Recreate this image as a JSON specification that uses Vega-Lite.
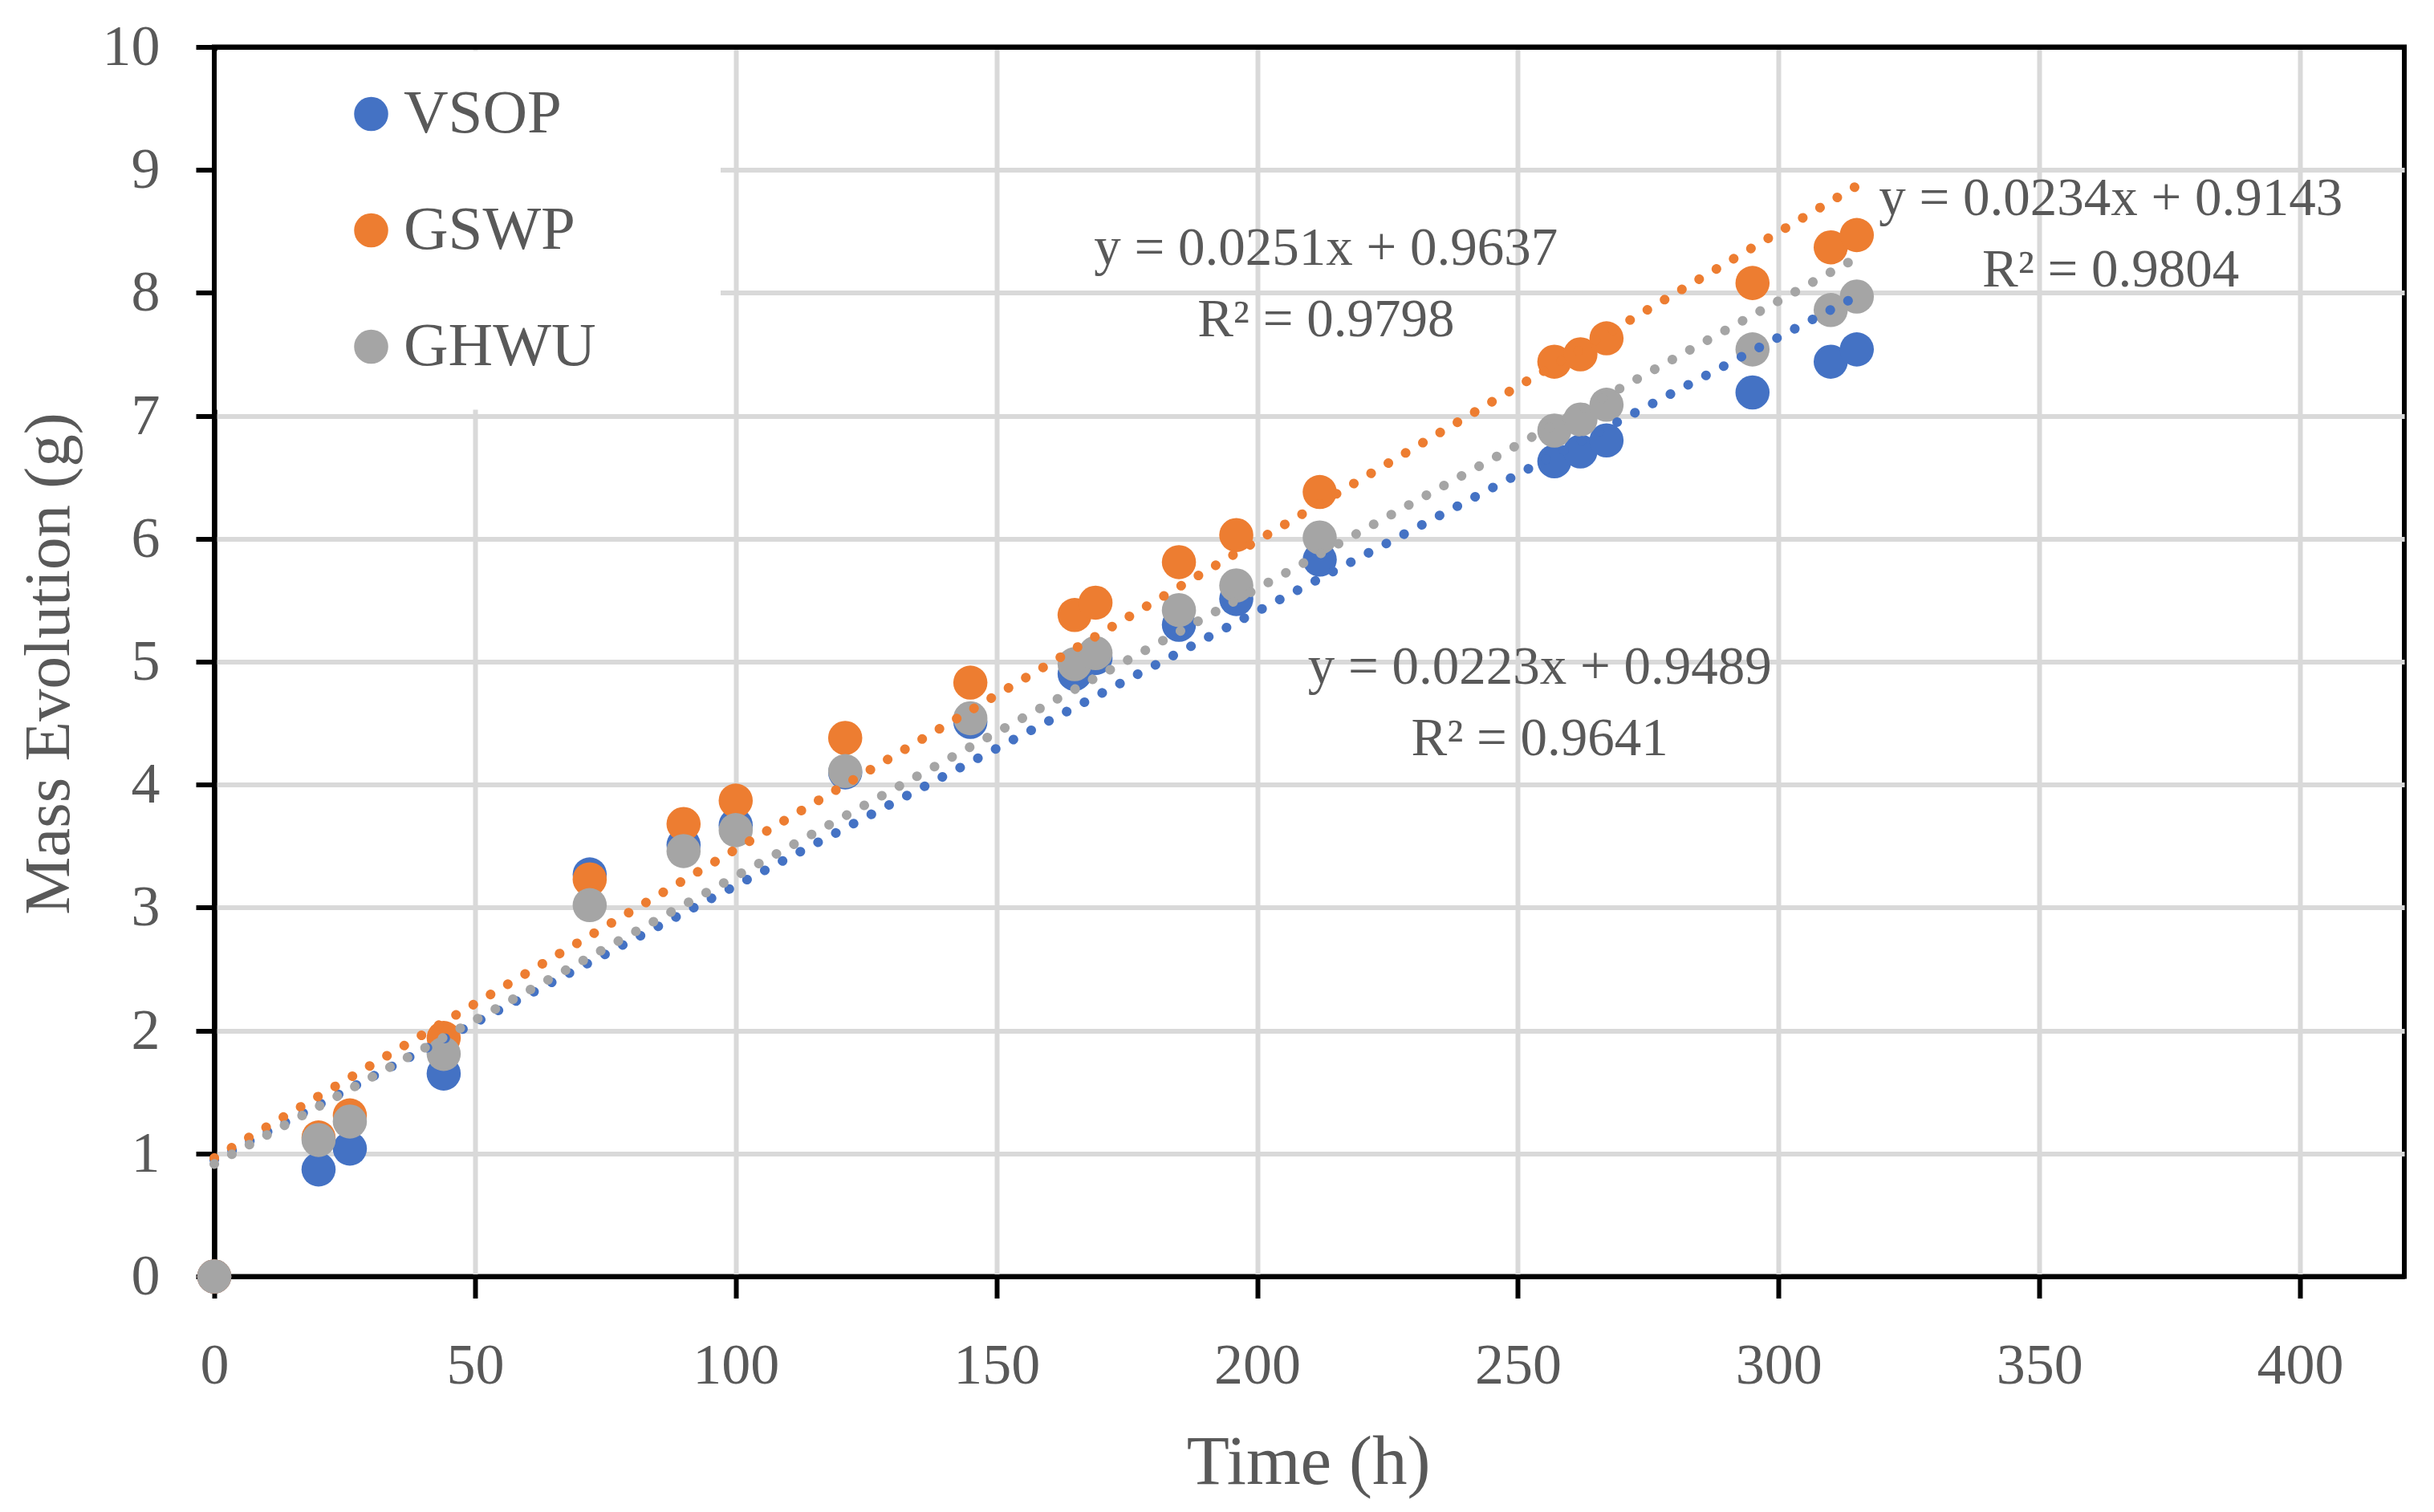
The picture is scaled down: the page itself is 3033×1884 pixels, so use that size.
{
  "$schema": "https://vega.github.io/schema/vega-lite/v6.json",
  "width": 2729,
  "height": 1532,
  "autosize": {"type": "none"},
  "padding": {"left": 267, "top": 58.5, "right": 37, "bottom": 293.5},
  "background": "white",
  "datasets": {
    "points": [
      {"time": 0, "mass": 0, "series": "VSOP"},
      {"time": 20, "mass": 0.87, "series": "VSOP"},
      {"time": 26, "mass": 1.04, "series": "VSOP"},
      {"time": 44, "mass": 1.65, "series": "VSOP"},
      {"time": 72, "mass": 3.27, "series": "VSOP"},
      {"time": 90, "mass": 3.51, "series": "VSOP"},
      {"time": 100, "mass": 3.67, "series": "VSOP"},
      {"time": 121, "mass": 4.1, "series": "VSOP"},
      {"time": 145, "mass": 4.51, "series": "VSOP"},
      {"time": 165, "mass": 4.9, "series": "VSOP"},
      {"time": 169, "mass": 5.03, "series": "VSOP"},
      {"time": 185, "mass": 5.3, "series": "VSOP"},
      {"time": 196, "mass": 5.51, "series": "VSOP"},
      {"time": 212, "mass": 5.83, "series": "VSOP"},
      {"time": 257, "mass": 6.63, "series": "VSOP"},
      {"time": 262, "mass": 6.71, "series": "VSOP"},
      {"time": 267, "mass": 6.8, "series": "VSOP"},
      {"time": 295, "mass": 7.19, "series": "VSOP"},
      {"time": 310, "mass": 7.44, "series": "VSOP"},
      {"time": 315, "mass": 7.54, "series": "VSOP"},
      {"time": 0, "mass": 0, "series": "GSWP"},
      {"time": 20, "mass": 1.13, "series": "GSWP"},
      {"time": 26, "mass": 1.31, "series": "GSWP"},
      {"time": 44, "mass": 1.94, "series": "GSWP"},
      {"time": 72, "mass": 3.23, "series": "GSWP"},
      {"time": 90, "mass": 3.68, "series": "GSWP"},
      {"time": 100, "mass": 3.87, "series": "GSWP"},
      {"time": 121, "mass": 4.38, "series": "GSWP"},
      {"time": 145, "mass": 4.83, "series": "GSWP"},
      {"time": 165, "mass": 5.38, "series": "GSWP"},
      {"time": 169, "mass": 5.48, "series": "GSWP"},
      {"time": 185, "mass": 5.81, "series": "GSWP"},
      {"time": 196, "mass": 6.03, "series": "GSWP"},
      {"time": 212, "mass": 6.38, "series": "GSWP"},
      {"time": 257, "mass": 7.44, "series": "GSWP"},
      {"time": 262, "mass": 7.5, "series": "GSWP"},
      {"time": 267, "mass": 7.63, "series": "GSWP"},
      {"time": 295, "mass": 8.08, "series": "GSWP"},
      {"time": 310, "mass": 8.37, "series": "GSWP"},
      {"time": 315, "mass": 8.47, "series": "GSWP"},
      {"time": 0, "mass": 0, "series": "GHWU"},
      {"time": 20, "mass": 1.11, "series": "GHWU"},
      {"time": 26, "mass": 1.26, "series": "GHWU"},
      {"time": 44, "mass": 1.81, "series": "GHWU"},
      {"time": 72, "mass": 3.02, "series": "GHWU"},
      {"time": 90, "mass": 3.46, "series": "GHWU"},
      {"time": 100, "mass": 3.63, "series": "GHWU"},
      {"time": 121, "mass": 4.11, "series": "GHWU"},
      {"time": 145, "mass": 4.54, "series": "GHWU"},
      {"time": 165, "mass": 4.98, "series": "GHWU"},
      {"time": 169, "mass": 5.07, "series": "GHWU"},
      {"time": 185, "mass": 5.42, "series": "GHWU"},
      {"time": 196, "mass": 5.62, "series": "GHWU"},
      {"time": 212, "mass": 6.01, "series": "GHWU"},
      {"time": 257, "mass": 6.88, "series": "GHWU"},
      {"time": 262, "mass": 6.97, "series": "GHWU"},
      {"time": 267, "mass": 7.09, "series": "GHWU"},
      {"time": 295, "mass": 7.54, "series": "GHWU"},
      {"time": 310, "mass": 7.86, "series": "GHWU"},
      {"time": 315, "mass": 7.97, "series": "GHWU"}
    ],
    "trends": [
      {"time": 0, "mass": 0.9489, "series": "VSOP"},
      {"time": 315, "mass": 7.9734, "series": "VSOP"},
      {"time": 0, "mass": 0.9637, "series": "GSWP"},
      {"time": 315, "mass": 8.8702, "series": "GSWP"},
      {"time": 0, "mass": 0.9143, "series": "GHWU"},
      {"time": 315, "mass": 8.2853, "series": "GHWU"}
    ],
    "labels": [
      {"time": 213.2, "mass": 8.23, "text": "y = 0.0251x + 0.9637"},
      {"time": 213.2, "mass": 7.65, "text": "R² = 0.9798"},
      {"time": 363.7, "mass": 8.63, "text": "y = 0.0234x + 0.9143"},
      {"time": 363.7, "mass": 8.05, "text": "R² = 0.9804"},
      {"time": 254.2, "mass": 4.82, "text": "y = 0.0223x + 0.9489"},
      {"time": 254.2, "mass": 4.24, "text": "R² = 0.9641"}
    ]
  },
  "layer": [
    {
      "data": {"name": "points"},
      "mark": {"type": "circle", "size": 1810, "opacity": 1, "strokeWidth": 0},
      "encoding": {
        "x": {
          "field": "time",
          "type": "quantitative",
          "scale": {"domain": [0, 420], "nice": false, "zero": false},
          "axis": {
            "values": [0, 50, 100, 150, 200, 250, 300, 350, 400],
            "format": "d",
            "title": "Time (h)",
            "titleFontSize": 87,
            "titleX": 1363,
            "titleY": 258,
            "titleBaseline": "alphabetic",
            "titleAlign": "center",
            "tickSize": 27,
            "labelPadding": 106,
            "labelBaseline": "alphabetic",
            "labelFlush": false,
            "gridColor": {"condition": {"test": "datum.value === 0", "value": "black"}, "value": "#D9D9D9"}
          }
        },
        "y": {
          "field": "mass",
          "type": "quantitative",
          "scale": {"domain": [0, 10], "nice": false},
          "axis": {
            "values": [0, 1, 2, 3, 4, 5, 6, 7, 8, 9, 10],
            "format": "d",
            "title": "Mass Evolution (g)",
            "titleFontSize": 81,
            "titleX": -182,
            "titleY": 768,
            "titleBaseline": "alphabetic",
            "titleAlign": "center",
            "tickSize": 23,
            "labelPadding": 45,
            "gridColor": {"condition": {"test": "datum.value === 10 || datum.value === 0", "value": "black"}, "value": "#D9D9D9"}
          }
        },
        "color": {
          "field": "series",
          "type": "nominal",
          "sort": null,
          "scale": {"domain": ["VSOP", "GSWP", "GHWU"], "range": ["#4472C4", "#ED7D31", "#A5A5A5"]},
          "legend": {
            "orient": "none",
            "legendX": 3,
            "legendY": 5,
            "padding": 40,
            "fillColor": "white",
            "title": null,
            "labelFontSize": 77,
            "labelColor": "#595959",
            "labelFont": "Liberation Serif",
            "labelLimit": 2000,
            "symbolType": "circle",
            "symbolSize": 1810,
            "symbolStrokeWidth": 0,
            "symbolOpacity": 1,
            "symbolOffset": 114,
            "labelOffset": 2,
            "rowPadding": 67,
            "labelExpr": "datum.label + '      \u200b'"
          }
        }
      }
    },
    {
      "data": {"name": "trends"},
      "mark": {"type": "line", "strokeWidth": 12, "strokeDash": [0.1, 24.9], "strokeCap": "round"},
      "encoding": {
        "x": {"field": "time", "type": "quantitative"},
        "y": {"field": "mass", "type": "quantitative"},
        "stroke": {
          "field": "series",
          "type": "nominal",
          "sort": null,
          "scale": {"domain": ["VSOP", "GSWP", "GHWU"], "range": ["#4472C4", "#ED7D31", "#A5A5A5"]},
          "legend": null
        }
      }
    },
    {
      "data": {"name": "labels"},
      "mark": {"type": "text", "fontSize": 67, "color": "#595959", "align": "center", "baseline": "alphabetic", "font": "Liberation Serif"},
      "encoding": {
        "x": {"field": "time", "type": "quantitative"},
        "y": {"field": "mass", "type": "quantitative"},
        "text": {"field": "text"}
      }
    }
  ],
  "config": {
    "font": "Liberation Serif",
    "view": {"stroke": "black", "strokeWidth": 6},
    "axis": {
      "domainColor": "black",
      "domainWidth": 6,
      "tickColor": "black",
      "tickWidth": 6,
      "gridWidth": 6,
      "labelFontSize": 72,
      "labelColor": "#595959",
      "labelFont": "Liberation Serif",
      "titleColor": "#595959",
      "titleFont": "Liberation Serif",
      "titleFontWeight": "normal"
    }
  }
}
